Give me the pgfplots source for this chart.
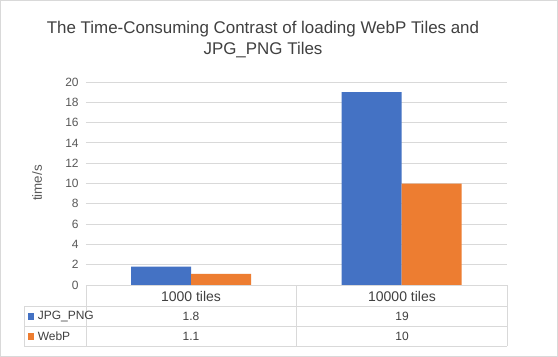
\documentclass[border=0pt]{standalone}
\usepackage{pgfplots}
\pgfplotsset{compat=1.18}
\usepackage{fontspec}
\setmainfont{Liberation Sans}
\definecolor{cblue}{HTML}{4472C4}
\definecolor{corange}{HTML}{ED7D31}
\definecolor{gridc}{HTML}{D9D9D9}
\definecolor{tickc}{HTML}{595959}
\definecolor{textc}{HTML}{404040}
\begin{document}
\begin{tikzpicture}
\begin{scope}[x=0.75pt,y=-0.75pt]
\useasboundingbox (0,0) rectangle (558,357);
\fill[white] (0,0) rectangle (558,357);
\draw[gridc] (0.5,0.5) rectangle (557.5,356.5);
\end{scope}
\begin{axis}[at={(64.5pt,-213.75pt)}, anchor=south west, scale only axis,
  width=315.75pt, height=152.25pt,
  xmin=-0.5, xmax=1.5, ymin=0, ymax=20,
  ytick={0,2,...,20}, xtick=\empty,
  ymajorgrids, grid style={gridc, line width=0.75pt},
  axis line style={draw=none}, major tick length=0pt,
  tick label style={font=\fontsize{9}{10}\selectfont, text=tickc},
  /pgf/number format/assume math mode=true,
  yticklabel style={xshift=-2pt},
  ybar, bar width=45pt, clip=false]
\addplot[fill=cblue, draw=none, bar shift=-22.5pt] coordinates {(0,1.8) (1,19)};
\addplot[fill=corange, draw=none, bar shift=22.5pt] coordinates {(0,1.1) (1,10)};
\end{axis}
\begin{scope}[x=0.75pt,y=-0.75pt]
% title
\node[text=textc, align=center, font=\fontsize{12.7}{16}\selectfont] at (263,39.5)
  {The Time-Consuming Contrast of loading WebP Tiles and\\JPG\_PNG Tiles};
% y label
\node[text=tickc, rotate=90, font=\fontsize{10}{12}\selectfont] at (37,183) {time/s};
% table lines
\draw[gridc, line width=0.75pt]
  (86,285) -- (507,285)
  (24,306.5) -- (507,306.5)
  (24,326) -- (507,326)
  (24,346) -- (507,346)
  (86,285) -- (86,346)
  (296,285) -- (296,346)
  (507,285) -- (507,346)
  (24,306.5) -- (24,346);
% category labels
\node[text=textc, font=\fontsize{10.5}{12}\selectfont] at (191,296) {1000 tiles};
\node[text=textc, font=\fontsize{10.5}{12}\selectfont] at (402,296) {10000 tiles};
% values
\node[text=textc, font=\fontsize{9}{10}\selectfont] at (191,316.5) {1.8};
\node[text=textc, font=\fontsize{9}{10}\selectfont] at (402,316.5) {19};
\node[text=textc, font=\fontsize{9}{10}\selectfont] at (191,336) {1.1};
\node[text=textc, font=\fontsize{9}{10}\selectfont] at (402,336) {10};
% legend keys
\fill[cblue] (27.5,313) rectangle (34,319.5);
\fill[corange] (27.5,333) rectangle (34,339.5);
\node[text=textc, anchor=west, inner sep=0pt, font=\fontsize{9}{10}\selectfont] at (37.5,316.5) {JPG\_PNG};
\node[text=textc, anchor=west, inner sep=0pt, font=\fontsize{9}{10}\selectfont] at (37.5,336) {WebP};
\end{scope}
\end{tikzpicture}
\end{document}
